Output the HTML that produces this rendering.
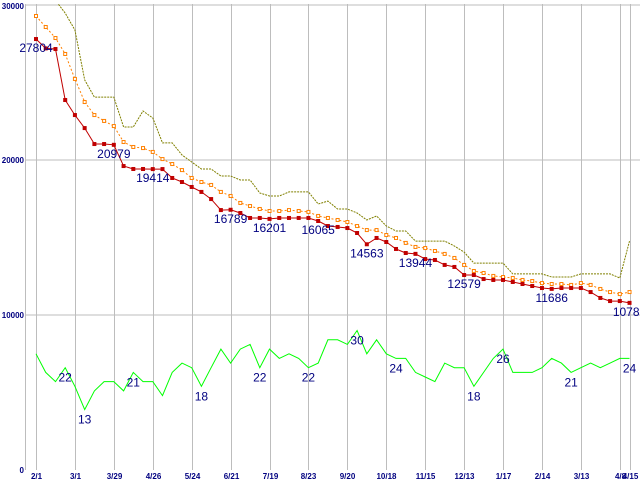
<!DOCTYPE html>
<html><head><meta charset="utf-8"><style>
html,body{margin:0;padding:0;background:#fff;}
svg{display:block;}
</style></head><body>
<svg id="chart" width="640" height="480" xmlns="http://www.w3.org/2000/svg">
<g id="grid"></g>
<g id="series"></g>
<g id="labels"></g>
</svg>
<script>
const xLabels = ["2/1","3/1","3/29","4/26","5/24","6/21","7/19","8/23","9/20","10/18","11/15","12/13","1/17","2/14","3/13","4/8","4/15"];
const xLabelIdx = [0,4,8,12,16,20,24,28,32,36,40,44,48,52,56,60,61];
const yTicks = [0,10000,20000,30000];
const redVals = [27804,27200,27160,23870,22900,22060,21030,21030,20979,19610,19420,19420,19414,19414,18840,18580,18260,17940,17480,16770,16789,16580,16260,16260,16201,16260,16260,16260,16260,16065,15740,15680,15610,15290,14563,14970,14710,14260,14000,13944,13610,13550,13230,13100,12579,12580,12320,12260,12260,12130,12000,11870,11740,11686,11740,11740,11740,11480,11100,10900,10900,10783];
const orangeVals = [29290,28580,27870,26840,25230,23740,22900,22520,22190,21160,20840,20770,20520,20060,19740,19350,18840,18580,18390,17940,17680,17230,17030,16840,16710,16710,16770,16710,16650,16390,16260,16130,16000,15740,15480,15480,15160,14970,14650,14390,14320,14130,13940,13680,13230,12840,12710,12520,12450,12390,12260,12190,12060,12000,12000,11940,12060,11940,11680,11480,11350,11480];
const oliveVals = [31600,31000,30300,29480,28390,25160,24060,24060,24060,22130,22130,23160,22710,21100,21100,20320,19870,19420,19420,18970,18970,18710,18710,17870,17680,17680,17940,17940,17940,17160,17350,16840,16840,16580,16130,16390,15740,15420,15420,14770,14770,14770,14770,14450,14060,13350,13350,13350,13350,12650,12650,12650,12650,12450,12450,12450,12650,12650,12650,12650,12390,14770];
const greenVals = [25,21,19,22,18,13,17,19,19,17,21,19,19,16,21,23,22,18,22,26,23,26,27,22,26,24,25,24,22,23,28,28,27,30,25,28,25,24,24,21,20,19,23,22,22,18,21,24,26,21,21,21,22,24,23,21,22,23,22,23,24,24];
const redLabelIdx = [0,8,12,20,24,29,34,39,44,53,61];
const greenLabelIdx = [3,5,10,17,23,28,33,37,45,48,55,61];

const NS = "http://www.w3.org/2000/svg";
const X0 = 36, DX = 9.73;
const xs = i => X0 + i*DX;
const ys = v => 470 - v*465/30000;
const yg = v => 470 - v*4.65;

function mk(tag, attrs, parent){
  const e = document.createElementNS(NS, tag);
  for (const k in attrs) e.setAttribute(k, attrs[k]);
  parent.appendChild(e);
  return e;
}
const grid = document.getElementById('grid');
const series = document.getElementById('series');
const labels = document.getElementById('labels');
const clip = mk('clipPath',{id:'plotclip'},document.getElementById('chart'));
mk('rect',{x:25,y:4,width:615,height:470},clip);

yTicks.forEach(t=>{
  const y = ys(t);
  if (t>0){
    const l = mk('line',{x1:25,x2:640,y1:y,y2:y,stroke:'#bdbdbd','stroke-width':1},grid);
    
    
  }
  const tx = mk('text',{x:24,y:t===30000?y+4:y+3,'text-anchor':'end','font-family':'Liberation Sans, sans-serif','font-size':8,'font-weight':'bold',fill:'#000080'},labels);
  tx.textContent = String(t);
  
  
});
const ax = mk('line',{x1:25.5,x2:25.5,y1:4,y2:470,stroke:'#bdbdbd','stroke-width':1},grid);



xLabelIdx.forEach((idx,k)=>{
  const x = Math.round(xs(idx))+0.5;
  const l = mk('line',{x1:x,x2:x,y1:4,y2:470,stroke:'#bdbdbd','stroke-width':1},grid);
  
  
  const tx = mk('text',{x:x,y:479,'text-anchor':'middle','font-family':'Liberation Sans, sans-serif','font-size':8,'font-weight':'bold',fill:'#000080'},labels);
  tx.textContent = xLabels[k];
  
  
});

function pts(vals, yf){ return vals.map((v,i)=>xs(i).toFixed(1)+','+yf(v).toFixed(1)).join(' '); }
const gs = mk('g',{'clip-path':'url(#plotclip)'},series);

const olive = mk('polyline',{points:pts(oliveVals,ys),fill:'none',stroke:'#808000','stroke-width':1,'stroke-dasharray':'2,1'},gs);



const orange = mk('polyline',{points:pts(orangeVals,ys),fill:'none',stroke:'#ff8000','stroke-width':1,'stroke-dasharray':'2,2'},gs);


orangeVals.forEach((v,i)=>{
  const r = mk('rect',{x:xs(i)-1.5,y:ys(v)-1.5,width:3,height:3,fill:'#fff',stroke:'#ff8000','stroke-width':1},gs);
  
  
});

const red = mk('polyline',{points:pts(redVals,ys),fill:'none',stroke:'#c00000','stroke-width':1},gs);


redVals.forEach((v,i)=>{
  const r = mk('rect',{x:xs(i)-2,y:ys(v)-2,width:4,height:4,fill:'#c00000'},gs);
  
  
});

const green = mk('polyline',{points:pts(greenVals,yg),fill:'none',stroke:'#00ff00','stroke-width':1},gs);



redLabelIdx.forEach(i=>{
  const t = mk('text',{x:xs(i),y:ys(redVals[i])+13,'text-anchor':'middle','font-family':'Liberation Sans, sans-serif','font-size':12,fill:'#000080'},labels);
  t.textContent = String(redVals[i]);
  
  
});
greenLabelIdx.forEach(i=>{
  const t = mk('text',{x:xs(i),y:yg(greenVals[i])+14,'text-anchor':'middle','font-family':'Liberation Sans, sans-serif','font-size':12,fill:'#000080'},labels);
  t.textContent = String(greenVals[i]);
  
  
});
</script>
</body></html>
